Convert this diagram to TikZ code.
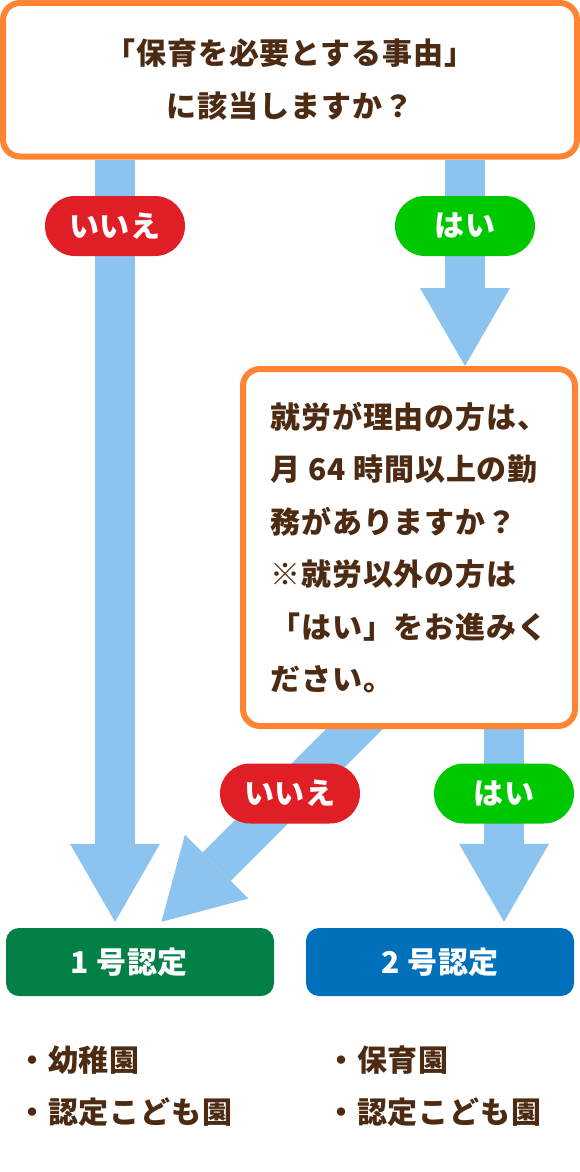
\documentclass[tikz,border=0pt]{standalone}
\usepackage{fontspec}
\setmainfont{Noto Sans CJK JP}[LetterSpace=3]
\usepackage{tikz}
\usetikzlibrary{arrows.meta,positioning,backgrounds}
\definecolor{textbrown}{RGB}{76,43,18}
\definecolor{lineorange}{RGB}{255,133,51}
\definecolor{flowblue}{RGB}{140,195,239}
\definecolor{noRed}{RGB}{224,30,38}
\definecolor{yesGreen}{RGB}{0,200,0}
\definecolor{oneGreen}{RGB}{2,128,70}
\definecolor{twoBlue}{RGB}{0,112,187}

\begin{document}
\begin{tikzpicture}[x=1pt, y=-1pt, font=\fontsize{30}{53}\selectfont\bfseries,
	question/.style = {draw=lineorange, line width=6pt, fill=white, rounded corners=17pt, text=textbrown},
	pill/.style = {rounded corners=30pt, minimum width=140pt, minimum height=60pt, inner sep=0pt, text=white},
	cert/.style = {rounded corners=13pt, minimum width=268pt, minimum height=68pt, inner sep=0pt, text=white},
	list/.style = {align=left, inner sep=0pt, text=textbrown, font=\fontsize{30}{52}\selectfont\bfseries},
	flow/.style = {draw=flowblue, line width=40pt, -{Triangle[length=78pt, width=90pt, line width=0pt]}}]
		\useasboundingbox (0,0) rectangle (580,1172);

		\node[question, minimum width=574pt, minimum height=153.5pt, align=center] (q1) at (290,79.75) {「保育を必要とする事由」\\に該当しますか？};
		\node[question, minimum width=332pt, minimum height=357pt, align=left, font=\fontsize{30}{52.4}\selectfont\bfseries] (q2) at (409,547.5) {就労が理由の方は、\\月 64 時間以上の勤\\務がありますか？\\※就労以外の方は\\「はい」をお進みく\\ださい。};

		\node[pill, fill=noRed] (no1) at (115,226) {いいえ};
		\node[pill, fill=yesGreen] (yes1) at (465,226) {はい};
		\node[pill, fill=noRed] (no2) at (290,793.5) {いいえ};
		\node[pill, fill=yesGreen] (yes2) at (504,793.5) {はい};

		\node[cert, fill=oneGreen] (one) at (140,962) {1 号認定\hspace*{22pt}};
		\node[cert, fill=twoBlue] (two) at (440,962) {2 号認定};

		\node[list, anchor=west] (list1) at (17,1086) {・幼稚園\\・認定こども園};
		\node[list, anchor=west] (list2) at (326,1086) {・保育園\\・認定こども園};

		\coordinate (d1) at ([xshift=-28.5pt, yshift=26pt]q2.south);
		\coordinate (d2) at ([xshift=21.5pt, yshift=6pt]one.north);

		\begin{pgfonlayer}{background}
			\fill[white] (0,0) rectangle (580,1172);
			\draw[flow, shorten >=6pt] (no1 |- q1.south) -- (no1 |- one.north);
			\draw[flow] (yes1 |- q1.south) -- (yes1 |- q2.north);
			\draw[flow] (d1) -- (d2);
			\draw[flow, shorten >=6pt] (yes2 |- q2.south) -- (yes2 |- two.north);
		\end{pgfonlayer}
	\end{tikzpicture}
\end{document}
